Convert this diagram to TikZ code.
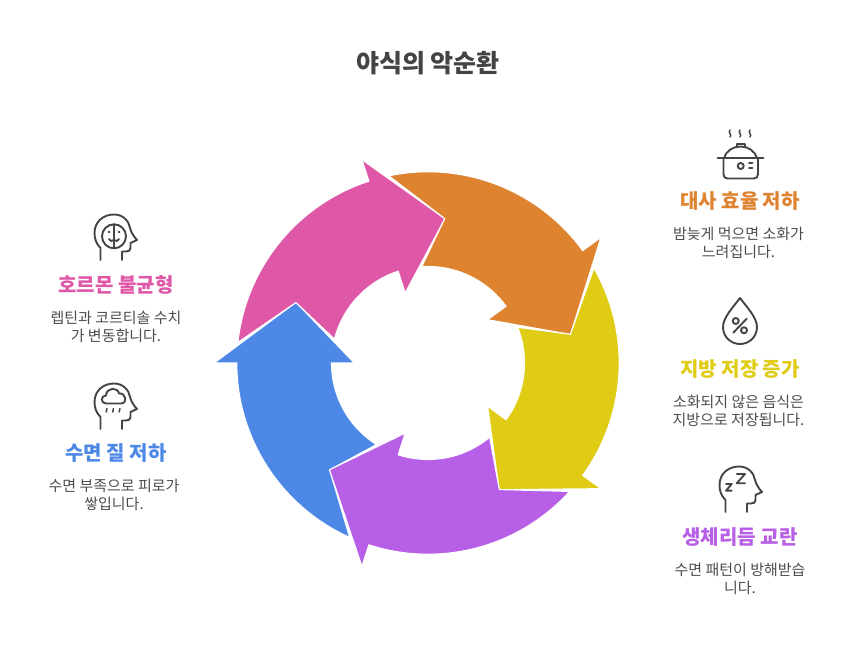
\documentclass[tikz,border=0pt]{standalone}
\usepackage{fontspec}
\setmainfont{Noto Sans CJK KR}
\usepackage{tikz}
\usepackage[dvipsnames]{xcolor}
\usetikzlibrary{calc}

\definecolor{orangearc}{HTML}{DE8431}
\definecolor{yellowarc}{HTML}{E0CB15}
\definecolor{purplearc}{HTML}{B75FE6}
\definecolor{bluearc}{HTML}{4E88E7}
\definecolor{pinkarc}{HTML}{DF58A8}
\definecolor{inktext}{HTML}{4C4C4C}
\definecolor{inkicon}{HTML}{444444}

\tikzset{
  headline/.style={font=\bfseries\fontsize{20}{24}\selectfont, anchor=center, inner sep=0pt},
  bodytext/.style={font=\fontsize{15}{18.2}\selectfont, text=inktext, align=center, anchor=north, inner sep=0pt},
  iconline/.style={draw=inkicon, line width=1.9pt, line cap=round, line join=round},
  ringarrow/.style={draw=white, line width=1.1pt, line join=miter},
  iconat/.style={shift={(#1)}, yscale=-1}
}

% one arrow of the ring, #1 = turn, #2 = colour
\newcommand{\ringpiece}[2]{
  \fill[#2, ringarrow, rotate around={#1:(428,303)}]
    ($(428,303)+(245.8:191.2)$) arc[start angle=245.8, end angle=180, radius=191.2]
    -- ($(428,303)+(180:213.8)$) -- ($(428,303)+(155.3:145.3)$) -- ($(428,303)+(180:73.7)$)
    -- ($(428,303)+(180:96.5)$) arc[start angle=180, end angle=237.7, radius=96.5]
    -- ($(428,303)+(227.4:145.3)$) -- cycle;
}

% side view of a head, for the three head icons
\newcommand{\headshape}{
  \draw[iconline] (15.5,52) -- (15.5,40) .. controls (11,36) and (9.5,30) .. (9.5,25)
    .. controls (9.5,14) and (18,6.5) .. (29,6.5) .. controls (38,6.5) and (44,13) .. (45,20)
    .. controls (46,24) and (49,29) .. (52,32) -- (45.5,35) -- (45.5,40)
    .. controls (45.5,42.5) and (44,43.5) .. (41,43.5) -- (37,43.5) -- (37,52);
}

\begin{document}
\begin{tikzpicture}[x=1pt,y=1pt]
  \useasboundingbox (0,0) rectangle (854,666);

  \ringpiece{0}{bluearc}
  \ringpiece{-72}{pinkarc}
  \ringpiece{-144}{orangearc}
  \ringpiece{-216}{yellowarc}
  \ringpiece{-288}{purplearc}

  \node[font=\bfseries\fontsize{25}{30}\selectfont, text=inkicon, inner sep=0pt] (title) at (428,603) {야식의 악순환};

  \node[headline, text=orangearc] (metabolism) at (740,465) {대사 효율 저하};
  \node[bodytext] (metabolismtext) at (738.5,439.5) {밤늦게 먹으면 소화가\\느려집니다.};

  \node[headline, text=yellowarc] (fat) at (740,297) {지방 저장 증가};
  \node[bodytext] (fattext) at (738.5,271.5) {소화되지 않은 음식은\\지방으로 저장됩니다.};

  \node[headline, text=purplearc] (rhythm) at (740,129) {생체리듬 교란};
  \node[bodytext] (rhythmtext) at (740,103.5) {수면 패턴이 방해받습\\니다.};

  \node[headline, text=pinkarc] (hormone) at (116,381) {호르몬 불균형};
  \node[bodytext] (hormonetext) at (116,355.5) {렙틴과 코르티솔 수치\\가 변동합니다.};

  \node[headline, text=bluearc] (sleep) at (116,213) {수면 질 저하};
  \node[bodytext] (sleeptext) at (114,187.5) {수면 부족으로 피로가\\쌓입니다.};

  % pot
  \begin{scope}[iconat={710,541}]
    \draw[iconline] (13.5,33) -- (13.5,49) .. controls (13.5,52) and (15,53.5) .. (17.5,53.5)
      -- (44,53.5) .. controls (46.5,53.5) and (48,52) .. (48,49) -- (48,33);
    \draw[iconline] (7.5,33) -- (53.5,33);
    \draw[iconline] (14,33) .. controls (16,26) and (23,21.5) .. (30.5,21.5)
      .. controls (38,21.5) and (45,26) .. (47,33);
    \draw[iconline] (27,21.5) -- (27,19) -- (35,19) -- (35,21.5);
    \draw[iconline] (30.7,41) circle (3);
    \draw[iconline] (39,38.3) -- (42.3,38.3);
    \draw[iconline] (39,43.3) -- (42.3,43.3);
    \foreach \x in {20,30,40}
      \draw[iconline, line width=1.5pt] (\x,5) .. controls (\x-2.5,7) and (\x+2.5,10) .. (\x,12);
  \end{scope}

  % drop
  \begin{scope}[iconat={710,374}]
    \draw[iconline] (30,6) .. controls (25,13) and (13,25) .. (13,35) .. controls (13,45) and (21,52) .. (30,52)
      .. controls (39,52) and (47,45) .. (47,35) .. controls (47,25) and (35,13) .. (30,6) -- cycle;
    \draw[iconline] (25.7,29) circle (3);
    \draw[iconline] (34,38.3) circle (3);
    \draw[iconline] (23.3,40.7) -- (36.7,26.7);
  \end{scope}

  % head with z
  \begin{scope}[iconat={710,206}]
    \headshape
    \draw[iconline] (16,24) -- (21.7,24) -- (16,30.7) -- (21.7,30.7);
    \draw[iconline] (26.7,14) -- (35,14) -- (26.7,23.3) -- (35,23.3);
  \end{scope}

  % head with face
  \begin{scope}[iconat={85,458}]
    \headshape
    \draw[iconline] (29,28.3) circle (12);
    \draw[iconline] (29,16.3) -- (29,40.3);
    \fill[inkicon] (24,24) circle (1.3) (34,24) circle (1.3);
    \draw[iconline] (24,31) .. controls (25,33.5) and (27,33.5) .. (29,32)
      .. controls (31,33.5) and (33,33.5) .. (34,31);
  \end{scope}

  % head with cloud
  \begin{scope}[iconat={85,289}]
    \headshape
    \draw[iconline] (21,26.5) .. controls (15.5,26.5) and (15.5,18.5) .. (21,18.5)
      .. controls (21.5,10) and (33,10) .. (34,16.5) .. controls (41,15.5) and (43,26.5) .. (36,26.5) -- cycle;
    \foreach \x in {22,28.5,35}
      \draw[iconline, line width=1.5pt] (\x,31.5) -- (\x-0.8,35);
  \end{scope}
\end{tikzpicture}
\end{document}
